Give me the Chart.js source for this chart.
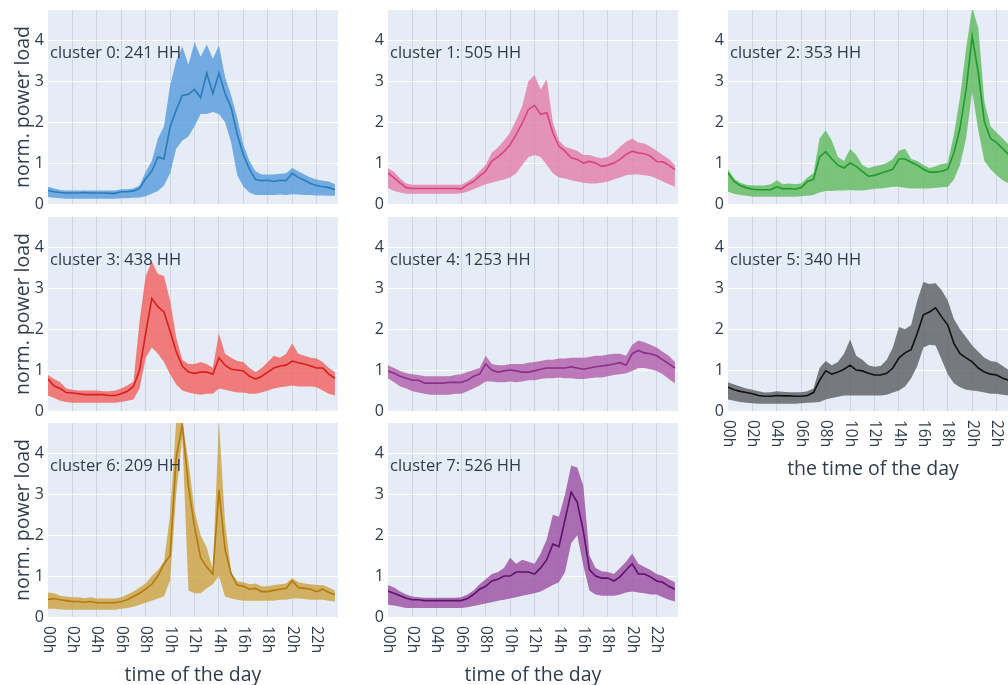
<!DOCTYPE html>
<html>
<head>
<meta charset="utf-8">
<title>cluster load profiles</title>
<script src="https://cdn.jsdelivr.net/npm/chart.js@4.4.1/dist/chart.umd.min.js"></script>
<style>
  html, body { margin: 0; padding: 0; background: #fff; }
  body { width: 1008px; height: 685px; overflow: hidden; position: relative; }
  canvas { position: absolute; }
</style>
</head>
<body>
<script>
// half-hour sample times (hours)
const HOURS = [0,0.5,1,1.5,2,2.5,3,3.5,4,4.5,5,5.5,6,6.5,7,7.5,8,8.5,9,9.5,10,10.5,11,11.5,
  12,12.5,13,13.5,14,14.5,15,15.5,16,16.5,17,17.5,18,18.5,19,19.5,20,20.5,21,21.5,22,22.5,23,23.5];

const X_TICKS = [0,2,4,6,8,10,12,14,16,18,20,22];
const X_TICK_LABELS = ['00h','02h','04h','06h','08h','10h','12h','14h','16h','18h','20h','22h'];
const Y_TICKS = [0,1,2,3,4];

const CLUSTER_SIZES = [241, 505, 353, 438, 1253, 340, 209, 526];

// cluster 0
const c0Mean = [0.33,0.30,0.28,0.27,0.27,0.27,0.28,0.27,0.27,0.27,0.26,0.26,
  0.30,0.30,0.32,0.38,0.62,0.80,1.15,1.10,1.88,2.30,2.65,2.68,
  2.80,2.60,3.20,2.70,3.20,2.70,2.35,1.70,1.20,0.85,0.60,0.57,
  0.58,0.55,0.58,0.57,0.75,0.65,0.58,0.50,0.45,0.42,0.40,0.35];
const c0Upper = [0.42,0.38,0.34,0.33,0.33,0.33,0.33,0.33,0.33,0.33,0.33,0.33,
  0.36,0.36,0.38,0.45,0.78,1.05,1.60,1.90,2.90,3.50,3.85,3.40,
  3.95,3.60,3.90,3.55,3.88,3.10,2.65,2.10,1.45,1.05,0.80,0.72,
  0.72,0.72,0.74,0.75,0.88,0.80,0.72,0.65,0.60,0.57,0.55,0.48];
const c0Lower = [0.17,0.15,0.14,0.13,0.13,0.13,0.13,0.13,0.13,0.13,0.13,0.13,
  0.14,0.14,0.15,0.16,0.19,0.25,0.32,0.45,0.75,1.35,1.55,1.65,
  1.90,2.20,2.20,2.25,2.20,2.00,1.50,0.70,0.43,0.28,0.22,0.22,
  0.22,0.22,0.23,0.22,0.24,0.23,0.22,0.22,0.21,0.21,0.20,0.20];

// cluster 1
const c1Mean = [0.76,0.64,0.51,0.40,0.38,0.38,0.38,0.38,0.38,0.38,0.38,0.38,
  0.37,0.47,0.55,0.68,0.80,1.05,1.15,1.28,1.45,1.70,1.98,2.31,
  2.41,2.19,2.23,1.74,1.41,1.29,1.13,1.09,1.00,1.04,1.00,0.92,
  0.95,1.00,1.09,1.21,1.29,1.25,1.23,1.17,1.04,1.03,0.95,0.84];
const c1Upper = [0.88,0.78,0.62,0.50,0.47,0.47,0.47,0.47,0.47,0.47,0.47,0.47,
  0.47,0.55,0.65,0.80,0.95,1.25,1.38,1.55,1.75,2.05,2.40,3.00,
  3.15,2.80,3.05,2.00,1.55,1.40,1.35,1.30,1.20,1.20,1.15,1.12,
  1.15,1.25,1.40,1.52,1.60,1.50,1.48,1.40,1.30,1.20,1.10,0.95];
const c1Lower = [0.39,0.32,0.28,0.25,0.25,0.25,0.25,0.25,0.25,0.25,0.25,0.25,
  0.26,0.30,0.36,0.42,0.48,0.52,0.56,0.60,0.65,0.75,0.95,1.15,
  1.20,1.15,0.95,0.75,0.65,0.62,0.58,0.55,0.52,0.50,0.50,0.52,
  0.55,0.60,0.65,0.70,0.72,0.72,0.70,0.68,0.62,0.55,0.48,0.42];

// cluster 2
const c2Mean = [0.76,0.55,0.45,0.40,0.36,0.35,0.35,0.35,0.42,0.37,0.38,0.36,
  0.40,0.55,0.60,1.15,1.28,1.10,0.95,0.88,1.00,0.92,0.80,0.68,
  0.70,0.75,0.80,0.85,1.10,1.10,1.02,0.95,0.85,0.78,0.78,0.80,
  0.85,1.25,1.85,2.80,4.10,3.20,2.00,1.60,1.50,1.35,1.20,1.05];
const c2Upper = [0.85,0.62,0.52,0.47,0.45,0.45,0.45,0.48,0.58,0.48,0.50,0.48,
  0.50,0.65,0.75,1.60,1.80,1.55,1.15,1.05,1.35,1.20,0.95,0.88,
  0.92,0.95,1.00,1.10,1.30,1.35,1.10,1.05,0.95,0.88,0.92,0.98,
  1.00,1.70,2.60,3.80,4.80,4.30,2.50,1.90,1.75,1.60,1.45,1.30];
const c2Lower = [0.30,0.25,0.22,0.20,0.18,0.18,0.18,0.18,0.18,0.18,0.18,0.18,
  0.19,0.20,0.22,0.28,0.32,0.32,0.33,0.33,0.34,0.33,0.33,0.35,
  0.37,0.38,0.40,0.42,0.42,0.40,0.38,0.38,0.38,0.38,0.40,0.41,
  0.42,0.60,0.95,1.60,2.75,1.80,1.05,0.85,0.70,0.58,0.50,0.45];

// cluster 3
const c3Mean = [0.78,0.61,0.55,0.45,0.44,0.42,0.40,0.40,0.40,0.40,0.38,0.38,
  0.42,0.48,0.60,1.00,1.90,2.75,2.55,2.42,1.95,1.45,1.10,0.95,
  0.92,0.95,0.95,0.90,1.30,1.12,1.02,1.00,0.98,0.85,0.78,0.85,
  0.95,1.05,1.10,1.12,1.22,1.18,1.15,1.10,1.05,1.05,0.90,0.80];
const c3Upper = [0.88,0.78,0.70,0.55,0.52,0.50,0.50,0.50,0.50,0.48,0.48,0.50,
  0.55,0.62,0.72,2.20,3.30,3.65,3.35,3.30,2.70,1.80,1.25,1.15,
  1.15,1.20,1.15,1.05,1.90,1.40,1.30,1.22,1.20,1.05,0.95,1.05,
  1.20,1.35,1.30,1.40,1.65,1.40,1.35,1.30,1.28,1.20,1.05,0.95];
const c3Lower = [0.38,0.32,0.25,0.22,0.20,0.20,0.20,0.20,0.20,0.20,0.20,0.20,
  0.22,0.25,0.28,0.55,1.30,1.55,1.40,1.20,0.90,0.65,0.50,0.45,
  0.42,0.40,0.42,0.42,0.55,0.52,0.48,0.45,0.45,0.42,0.42,0.45,
  0.50,0.55,0.58,0.60,0.62,0.60,0.60,0.60,0.58,0.50,0.42,0.38];

// cluster 4
const c4Mean = [0.98,0.92,0.85,0.80,0.75,0.75,0.68,0.68,0.68,0.68,0.70,0.70,
  0.70,0.75,0.85,0.90,1.15,1.00,0.95,0.98,1.00,0.98,0.95,0.95,
  0.98,1.02,1.05,1.05,1.05,1.05,1.08,1.05,1.02,1.05,1.08,1.10,
  1.12,1.15,1.18,1.12,1.40,1.48,1.42,1.40,1.35,1.25,1.15,1.05];
const c4Upper = [1.12,1.05,0.98,0.92,0.90,0.88,0.85,0.85,0.85,0.85,0.85,0.88,
  0.90,0.95,1.00,1.05,1.35,1.15,1.12,1.12,1.15,1.15,1.15,1.18,
  1.20,1.22,1.25,1.25,1.28,1.28,1.30,1.30,1.30,1.32,1.35,1.35,
  1.38,1.40,1.40,1.35,1.62,1.72,1.68,1.62,1.55,1.45,1.35,1.20];
const c4Lower = [0.80,0.70,0.60,0.55,0.48,0.45,0.42,0.40,0.40,0.40,0.40,0.42,
  0.42,0.48,0.55,0.62,0.72,0.72,0.70,0.70,0.72,0.70,0.72,0.75,
  0.75,0.78,0.80,0.80,0.82,0.80,0.80,0.78,0.78,0.80,0.82,0.82,
  0.85,0.88,0.90,0.92,0.98,1.05,1.05,1.02,0.98,0.90,0.78,0.68];

// cluster 5
const c5Mean = [0.58,0.52,0.48,0.45,0.42,0.38,0.36,0.36,0.38,0.37,0.37,0.36,
  0.36,0.38,0.45,0.75,0.98,0.90,0.95,1.02,1.12,1.00,0.98,0.92,
  0.88,0.88,0.92,1.05,1.30,1.42,1.50,1.90,2.35,2.42,2.52,2.30,
  2.10,1.65,1.40,1.30,1.20,1.05,0.95,0.90,0.88,0.80,0.75,0.72];
const c5Upper = [0.70,0.65,0.60,0.55,0.52,0.48,0.45,0.46,0.48,0.47,0.46,0.46,
  0.46,0.48,0.55,1.05,1.22,1.12,1.20,1.40,1.75,1.35,1.25,1.12,
  1.08,1.10,1.25,1.55,2.05,2.00,2.10,2.70,3.15,3.10,3.12,2.95,
  2.70,2.25,2.00,1.80,1.60,1.45,1.30,1.22,1.20,1.10,1.00,0.95];
const c5Lower = [0.28,0.25,0.22,0.20,0.19,0.18,0.18,0.18,0.18,0.18,0.18,0.18,
  0.19,0.20,0.21,0.22,0.28,0.32,0.35,0.38,0.38,0.38,0.38,0.38,
  0.38,0.38,0.40,0.45,0.50,0.60,0.80,1.10,1.55,1.62,1.60,1.25,
  0.90,0.68,0.58,0.52,0.50,0.48,0.45,0.42,0.42,0.40,0.38,0.36];

// cluster 6
const c6Mean = [0.43,0.45,0.42,0.40,0.38,0.38,0.36,0.38,0.35,0.35,0.35,0.35,
  0.38,0.42,0.50,0.58,0.68,0.80,1.00,1.30,1.50,3.90,4.70,3.20,
  2.20,1.45,1.22,1.05,3.10,1.65,1.05,0.78,0.75,0.68,0.70,0.62,
  0.62,0.65,0.68,0.70,0.88,0.72,0.70,0.68,0.62,0.68,0.60,0.55];
const c6Upper = [0.60,0.58,0.52,0.50,0.48,0.48,0.46,0.48,0.45,0.45,0.45,0.45,
  0.48,0.55,0.62,0.72,0.82,1.00,1.15,1.35,2.50,4.80,4.80,3.80,
  2.60,2.00,1.70,1.15,4.80,2.30,1.10,0.88,0.85,0.80,0.82,0.75,
  0.75,0.78,0.80,0.82,0.95,0.85,0.82,0.80,0.78,0.78,0.72,0.65];
const c6Lower = [0.20,0.20,0.19,0.18,0.18,0.18,0.18,0.18,0.18,0.18,0.18,0.18,
  0.20,0.22,0.25,0.30,0.35,0.40,0.45,0.50,0.90,3.00,4.40,0.65,
  0.58,0.58,0.70,0.80,1.00,0.50,0.45,0.42,0.40,0.40,0.40,0.40,
  0.40,0.40,0.42,0.42,0.45,0.45,0.44,0.42,0.42,0.42,0.40,0.38];

// cluster 7
const c7Mean = [0.63,0.58,0.52,0.46,0.42,0.42,0.40,0.40,0.40,0.40,0.40,0.40,
  0.40,0.45,0.55,0.68,0.75,0.88,0.92,1.00,1.00,1.10,1.10,1.10,
  1.05,1.20,1.40,1.78,1.72,2.38,3.05,2.80,2.10,1.15,1.00,0.95,
  0.95,0.88,0.98,1.15,1.30,1.05,1.05,0.98,0.88,0.85,0.75,0.68];
const c7Upper = [0.78,0.72,0.62,0.55,0.50,0.48,0.47,0.47,0.47,0.47,0.47,0.47,
  0.48,0.55,0.65,0.80,0.92,1.05,1.10,1.20,1.45,1.30,1.40,1.35,
  1.30,1.55,1.90,2.50,2.45,3.00,3.70,3.65,3.20,1.50,1.20,1.12,
  1.10,1.05,1.20,1.35,1.55,1.30,1.22,1.15,1.05,1.00,0.92,0.85];
const c7Lower = [0.30,0.28,0.25,0.22,0.22,0.22,0.22,0.22,0.22,0.22,0.22,0.22,
  0.22,0.24,0.27,0.30,0.33,0.36,0.40,0.42,0.45,0.48,0.52,0.55,
  0.58,0.62,0.70,0.78,0.85,1.10,1.80,2.00,1.25,0.65,0.55,0.52,
  0.52,0.52,0.55,0.60,0.62,0.60,0.58,0.55,0.55,0.48,0.42,0.38];

const MEANS  = [c0Mean, c1Mean, c2Mean, c3Mean, c4Mean, c5Mean, c6Mean, c7Mean];
const UPPERS = [c0Upper, c1Upper, c2Upper, c3Upper, c4Upper, c5Upper, c6Upper, c7Upper];
const LOWERS = [c0Lower, c1Lower, c2Lower, c3Lower, c4Lower, c5Lower, c6Lower, c7Lower];

// styles
const LINE_COLORS = ['#2b7bba','#d6457f','#1f9a2f','#d81e1e','#8a2f8a','#111111','#b07a0e','#5c1468'];
const BAND_COLORS = ['rgba(84,155,220,0.8)','rgba(229,124,169,0.8)','rgba(94,186,91,0.8)','rgba(243,95,92,0.8)',
  'rgba(176,92,170,0.8)','rgba(90,92,96,0.8)','rgba(205,161,62,0.8)','rgba(155,78,162,0.8)'];
const PLOT_BG = '#e5ecf6';
const VGRID = '#cdd4de';
const TEXT = '#2f3b4c';
const FONT = '"Open Sans", sans-serif';

const COL_LEFT = [48, 388, 728];
const ROW_TOP = [10, 217, 423];
const PLOT_W = 290, PLOT_H = 194;
const PAD = 16;

Chart.defaults.font.family = FONT;

// plot background, cluster annotation, rotated hour labels
const panelDecor = {
  id: 'panelDecor',
  beforeDraw(chart) {
    const { ctx, chartArea: a } = chart;
    ctx.save();
    ctx.fillStyle = PLOT_BG;
    ctx.fillRect(a.left, a.top, a.right - a.left, a.bottom - a.top);
    ctx.restore();
  },
  afterDatasetsDraw(chart, args, opts) {
    const { ctx, chartArea: a } = chart;
    ctx.save();
    ctx.font = '16.5px ' + FONT;
    ctx.fillStyle = TEXT;
    ctx.textBaseline = 'middle';
    ctx.textAlign = 'left';
    ctx.fillText(opts.label, a.left + 2, a.top + 43);
    ctx.restore();
  },
  afterDraw(chart, args, opts) {
    if (!opts.xLabels) return;
    const { ctx, chartArea: a } = chart;
    const xs = chart.scales.x;
    ctx.save();
    ctx.font = '15.5px ' + FONT;
    ctx.fillStyle = TEXT;
    ctx.textBaseline = 'middle';
    ctx.textAlign = 'left';
    xs.ticks.forEach((t, i) => {
      ctx.save();
      ctx.translate(xs.getPixelForValue(t.value), a.bottom + 9);
      ctx.rotate(Math.PI / 2);
      ctx.fillText(X_TICK_LABELS[i], 0, 0);
      ctx.restore();
    });
    ctx.restore();
  }
};

function makePanel(k) {
  const col = k % 3, row = Math.floor(k / 3);
  const hasX = k >= 5;
  const xTitle = k === 5 ? 'the time of the day' : (k >= 6 ? 'time of the day' : '');
  const yW = col === 0 ? 48 : 30;
  const xH = hasX ? 70 : 0;

  const cv = document.createElement('canvas');
  cv.width = yW + PLOT_W + 6;
  cv.height = PAD + PLOT_H + (hasX ? xH : PAD);
  cv.style.left = (COL_LEFT[col] - yW) + 'px';
  cv.style.top = (ROW_TOP[row] - PAD) + 'px';
  document.body.appendChild(cv);

  new Chart(cv, {
    type: 'line',
    data: {
      labels: HOURS,
      datasets: [
        { data: MEANS[k], borderColor: LINE_COLORS[k], borderWidth: 1.6, pointRadius: 0, fill: false },
        { data: UPPERS[k], borderColor: 'transparent', borderWidth: 0, pointRadius: 0,
          backgroundColor: BAND_COLORS[k], fill: '+1' },
        { data: LOWERS[k], borderColor: 'transparent', borderWidth: 0, pointRadius: 0, fill: false }
      ]
    },
    plugins: [panelDecor],
    options: {
      responsive: false,
      animation: false,
      events: [],
      layout: { padding: { top: PAD, right: 6, bottom: hasX ? 0 : PAD, left: 0 } },
      plugins: {
        legend: { display: false },
        tooltip: { enabled: false },
        panelDecor: { label: 'cluster ' + k + ': ' + CLUSTER_SIZES[k] + ' HH', xLabels: hasX }
      },
      scales: {
        x: {
          type: 'linear',
          min: 0,
          max: 23.75,
          afterBuildTicks: s => { s.ticks = X_TICKS.map(v => ({ value: v })); },
          afterFit: s => { s.height = xH; },
          ticks: { display: false },
          grid: {
            color: c => (c.tick && c.tick.value === 0) ? 'rgba(0,0,0,0)' : VGRID,
            drawTicks: false
          },
          border: { display: false },
          title: {
            display: xTitle !== '',
            text: xTitle,
            color: TEXT,
            font: { size: 19.5 },
            padding: { top: 0, bottom: 0 }
          }
        },
        y: {
          min: 0,
          max: 4.74,
          afterBuildTicks: s => { s.ticks = Y_TICKS.map(v => ({ value: v })); },
          afterFit: s => { s.width = yW; },
          ticks: { color: TEXT, font: { size: 16 }, padding: 4 },
          grid: { color: '#ffffff', lineWidth: 1, drawTicks: false },
          border: { display: false },
          title: {
            display: col === 0,
            text: 'norm. power load',
            color: TEXT,
            font: { size: 19.5 },
            padding: { top: 11.5, bottom: 0 }
          }
        }
      }
    }
  });
}

for (let k = 0; k < MEANS.length; k++) makePanel(k);
</script>
</body>
</html>
